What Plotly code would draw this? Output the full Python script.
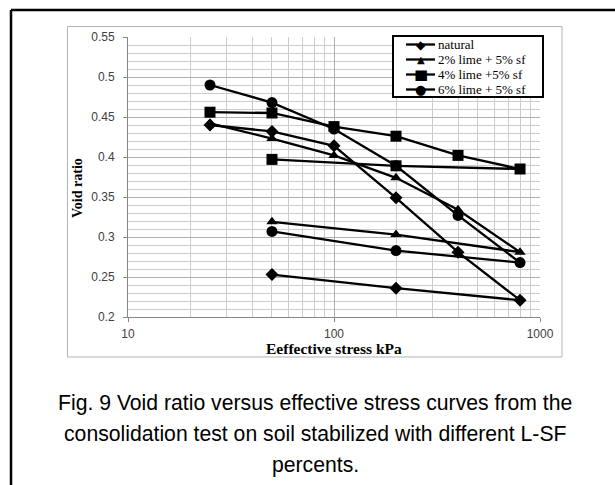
import plotly.graph_objects as go

# Oedometer loading / unloading sequence (kPa)
stress = [25, 50, 100, 200, 400, 800, 200, 50]

# Void ratio for each mix
natural = [0.440, 0.432, 0.414, 0.349, 0.281, 0.221, 0.236, 0.253]
lime2_sf5 = [0.442, 0.423, 0.402, 0.374, 0.334, 0.281, 0.303, 0.319]
lime4_sf5 = [0.456, 0.455, 0.438, 0.426, 0.402, 0.385, 0.389, 0.397]
lime6_sf5 = [0.490, 0.468, 0.435, 0.389, 0.327, 0.268, 0.283, 0.307]

series_names = ["natural", "2% lime + 5% sf", "4% lime +5% sf", "6% lime + 5% sf"]
series_values = [natural, lime2_sf5, lime4_sf5, lime6_sf5]
series_symbols = ["diamond", "triangle-up", "square", "circle"]
series_sizes = [10, 10, 11, 11]

x_ticks = [10, 100, 1000]
x_minor = [20, 30, 40, 50, 60, 70, 80, 90, 200, 300, 400, 500, 600, 700, 800, 900]
y_range = [0.2, 0.55]

W, H = 615, 485
ML, MR, MT, MB = 128, 75, 37, 168
PW, PH = W - ML - MR, H - MT - MB


def px(x):
    return (x - ML) / PW


def py(y):
    return (H - MB - y) / PH


fig = go.Figure()
for name, vals, sym, size in zip(series_names, series_values, series_symbols, series_sizes):
    fig.add_trace(go.Scatter(
        x=stress, y=vals, name=name, mode="lines+markers",
        line=dict(color="black", width=2.3),
        marker=dict(symbol=sym, size=size, color="black"),
        showlegend=False,
    ))

shapes = []
annotations = []

# outer figure frame (left and top edges)
shapes.append(dict(type="line", xref="paper", yref="paper",
                   x0=px(11), x1=px(615), y0=py(10), y1=py(10),
                   line=dict(color="black", width=2.5)))
shapes.append(dict(type="line", xref="paper", yref="paper",
                   x0=px(11), x1=px(11), y0=py(10), y1=py(485),
                   line=dict(color="black", width=2.5)))
# chart area border
shapes.append(dict(type="rect", xref="paper", yref="paper",
                   x0=px(67.5), x1=px(562), y0=py(26.5), y1=py(357),
                   line=dict(color="#b3b3b3", width=1), layer="below"))

# legend box
shapes.append(dict(type="rect", xref="paper", yref="paper",
                   x0=px(393), x1=px(543), y0=py(36), y1=py(97),
                   line=dict(color="black", width=2), fillcolor="white", layer="above"))

legend_glyphs = {"diamond": ("\u25c6", 12), "triangle-up": ("\u25b2", 10),
                 "square": ("\u25a0", 15), "circle": ("\u25cf", 13)}
row_y = [44.5, 59.5, 74.5, 89.5]
for name, sym, ry in zip(series_names, series_symbols, row_y):
    shapes.append(dict(type="line", xref="paper", yref="paper",
                       x0=px(406), x1=px(435), y0=py(ry), y1=py(ry),
                       line=dict(color="black", width=2.3), layer="above"))
    glyph, gsize = legend_glyphs[sym]
    annotations.append(dict(xref="paper", yref="paper", x=px(420.5), y=py(ry),
                            xanchor="center", yanchor="middle", showarrow=False,
                            height=13, borderpad=0,
                            text=glyph, font=dict(family="DejaVu Sans", size=gsize, color="black")))
    annotations.append(dict(xref="paper", yref="paper", x=px(435.5), y=py(ry),
                            xanchor="left", yanchor="middle", showarrow=False,
                            text=name, font=dict(family="Liberation Serif", size=13, color="black")))

# axis titles
annotations.append(dict(xref="paper", yref="paper", x=px(334), y=py(348.5),
                        xanchor="center", yanchor="middle", showarrow=False,
                        text="<b>Eeffective stress kPa</b>",
                        font=dict(family="Liberation Serif", size=15.5, color="black")))
annotations.append(dict(xref="paper", yref="paper", x=px(77), y=py(188),
                        xanchor="center", yanchor="middle", showarrow=False, textangle=-90,
                        text="<b>Void ratio</b>",
                        font=dict(family="Liberation Serif", size=14, color="black")))

# figure caption
caption = [
    "Fig. 9 Void ratio versus effective stress curves from the",
    "consolidation test on soil stabilized with different L-SF",
    "percents.",
]
for line, cy in zip(caption, [403, 433.5, 464.5]):
    annotations.append(dict(xref="paper", yref="paper", x=px(315), y=py(cy),
                            xanchor="center", yanchor="middle", showarrow=False,
                            text=line, font=dict(family="Liberation Sans", size=21.2, color="black")))

tick_font = dict(family="Liberation Sans", size=12, color="#404040")

fig.update_layout(
    width=W, height=H,
    margin=dict(l=ML, r=MR, t=MT, b=MB, pad=0),
    paper_bgcolor="white", plot_bgcolor="white",
    shapes=shapes, annotations=annotations,
    xaxis=dict(
        type="log", range=[1, 3], tickvals=x_ticks, ticktext=[str(v) for v in x_ticks],
        showgrid=True, gridcolor="#b0b0b0", gridwidth=1,
        showline=True, linecolor="#868686", linewidth=1,
        ticks="outside", ticklen=4, tickcolor="#868686", ticklabelstandoff=2,
        tickfont=tick_font, zeroline=False,
        minor=dict(tickvals=x_minor, showgrid=True, gridcolor="#cccccc", gridwidth=1, ticks=""),
    ),
    yaxis=dict(
        range=y_range, dtick=0.05, tick0=0.2, tickformat="",
        showgrid=True, gridcolor="#b0b0b0", gridwidth=1,
        showline=True, linecolor="#868686", linewidth=1,
        ticks="outside", ticklen=4, tickcolor="#868686", ticklabelstandoff=6,
        tickfont=tick_font, zeroline=False,
        minor=dict(dtick=0.01, showgrid=True, gridcolor="#cccccc", gridwidth=1, ticks=""),
    ),
)

fig.write_html("out.html")
